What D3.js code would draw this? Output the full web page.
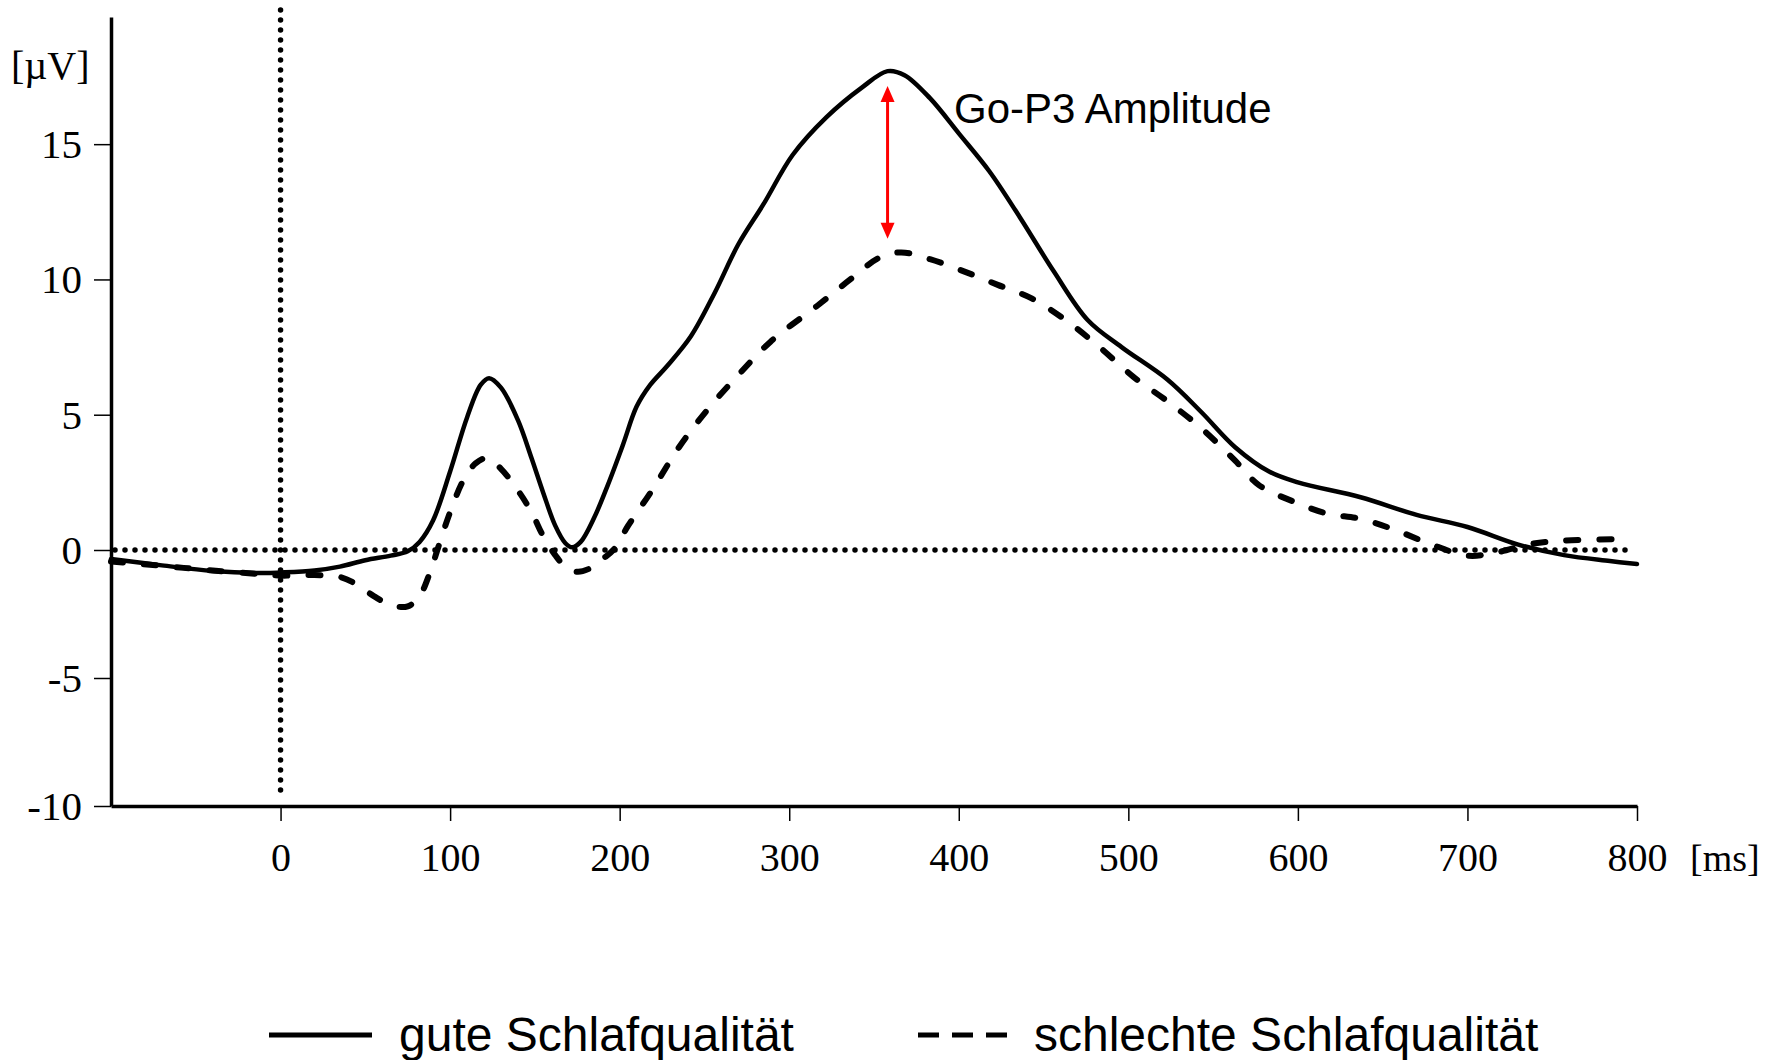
<!DOCTYPE html>
<html>
<head>
<meta charset="utf-8">
<script src="https://cdn.jsdelivr.net/npm/d3@7"></script>
<style>
  html, body { margin: 0; padding: 0; background: #fff; }
  svg { display: block; }
</style>
</head>
<body>
<svg id="chart" width="1778" height="1060"></svg>
<script>
// ---- Data ----
const timeMs = [-100,-70,-40,-10,0,20,35,50,65,75,82,90,100,110,118,123,130,140,148,155,162,168,172,177,185,193,202,210,218,228,242,256,270,285,302,322,343,358,368,383,400,418,436,456,476,496,523,543,563,583,600,637,670,700,730,757,784,800];
const guteValues = [-0.35,-0.6,-0.82,-0.9,-0.88,-0.8,-0.65,-0.4,-0.22,-0.05,0.3,1.1,2.9,4.9,6.1,6.35,6.0,4.8,3.4,2.1,0.9,0.25,0.1,0.3,1.2,2.4,3.9,5.3,6.1,6.8,7.9,9.5,11.3,12.8,14.6,16.0,17.1,17.7,17.55,16.7,15.4,14.0,12.3,10.3,8.5,7.5,6.3,5.1,3.8,2.9,2.5,1.95,1.3,0.85,0.2,-0.2,-0.43,-0.55];

const timeMsB = [-100,-70,-40,-10,0,20,35,45,55,65,75,82,88,93,100,108,115,122,130,140,148,155,162,168,175,183,190,197,205,219,235,252,269,289,316,336,353,366,383,403,423,443,463,483,503,523,543,563,577,597,617,637,657,677,700,717,737,757,787];
const schlechteValues = [-0.45,-0.62,-0.8,-0.95,-1.0,-0.98,-1.05,-1.35,-1.8,-2.15,-2.2,-1.8,-0.9,0.1,1.4,2.6,3.2,3.4,3.0,2.2,1.4,0.5,-0.2,-0.65,-0.85,-0.7,-0.35,0.05,0.9,2.2,3.8,5.2,6.4,7.7,9.0,10.0,10.8,11.0,10.75,10.3,9.8,9.3,8.5,7.5,6.4,5.5,4.5,3.3,2.4,1.8,1.35,1.15,0.75,0.25,-0.22,-0.1,0.22,0.35,0.4];

const xTicks = [0,100,200,300,400,500,600,700,800];
const yTicks = [-10,-5,0,5,10,15];
const seriesNames = ["gute Schlafqualität", "schlechte Schlafqualität"];
const annotationText = "Go-P3 Amplitude";
const arrowAt = 358;              // ms
const arrowRange = [11.5, 17.15]; // µV

// ---- Scales ----
const svg = d3.select("#chart");
svg.append("rect").attr("width",1778).attr("height",1060).attr("fill","#fff");

const x = d3.scaleLinear().domain([-100, 800]).range([111, 1637]);
const y = d3.scaleLinear().domain([-10, 0, 19.7]).range([806, 550, 17]);

const serif = "'Liberation Serif','Times New Roman',serif";
const sans = "'Liberation Sans',Arial,sans-serif";
const fmt = d => String(d);

// ---- Dotted reference lines ----
svg.append("line")
  .attr("x1", x(-100) + 4).attr("x2", x(797))
  .attr("y1", y(0)).attr("y2", y(0))
  .attr("stroke","#000").attr("stroke-width",5.5)
  .attr("stroke-linecap","round").attr("stroke-dasharray","0 10");
svg.append("line")
  .attr("x1", x(0)).attr("x2", x(0))
  .attr("y1", 10).attr("y2", 797)
  .attr("stroke","#000").attr("stroke-width",5.5)
  .attr("stroke-linecap","round").attr("stroke-dasharray","0 10");

// ---- Axes ----
const yAxis = d3.axisLeft(y).tickValues(yTicks).tickFormat(fmt).tickSize(17).tickSizeOuter(0).tickPadding(12);
const gy = svg.append("g").attr("transform", `translate(${x(-100)},0)`).call(yAxis);
gy.select(".domain").attr("stroke-width",3.5);
gy.selectAll(".tick line").attr("stroke-width",1.5);
gy.selectAll(".tick text").attr("font-family", serif).attr("font-size",41).attr("fill","#000").attr("dy","0.33em");

const xAxis = d3.axisBottom(x).tickValues(xTicks).tickFormat(fmt).tickSize(15).tickSizeOuter(0).tickPadding(22);
const gx = svg.append("g").attr("transform", `translate(0,${y(-10)})`).call(xAxis);
gx.select(".domain").attr("stroke-width",3.5);
gx.selectAll(".tick line").attr("stroke-width",1.5);
gx.selectAll(".tick text").attr("font-family", serif).attr("font-size",40).attr("fill","#000");

svg.append("text").attr("x", 11).attr("y", 79)
  .attr("font-family", serif).attr("font-size", 40).text("[µV]");
svg.append("text").attr("x", 1690).attr("y", 871)
  .attr("font-family", serif).attr("font-size", 38).text("[ms]");

// ---- Curves ----
const line = d3.line().x(d => x(d[0])).y(d => y(d[1])).curve(d3.curveCatmullRom.alpha(0.5));
svg.append("path")
  .datum(timeMs.map((t,i) => [t, guteValues[i]]))
  .attr("d", line).attr("fill","none").attr("stroke","#000").attr("stroke-width",4.5)
  .attr("stroke-linejoin","round").attr("stroke-linecap","round");
svg.append("path")
  .datum(timeMsB.map((t,i) => [t, schlechteValues[i]]))
  .attr("d", line).attr("fill","none").attr("stroke","#000").attr("stroke-width",6)
  .attr("stroke-dasharray","12 21").attr("stroke-linecap","round");

// ---- Red double arrow ----
const ax = x(arrowAt), aTop = y(arrowRange[1]), aBot = y(arrowRange[0]);
const head = 16, half = 7;
svg.append("line").attr("x1",ax).attr("x2",ax).attr("y1",aTop+head-2).attr("y2",aBot-head+2)
  .attr("stroke","#ff0000").attr("stroke-width",3);
svg.append("path").attr("d",`M${ax},${aTop} L${ax-half},${aTop+head} L${ax+half},${aTop+head} Z`).attr("fill","#ff0000");
svg.append("path").attr("d",`M${ax},${aBot} L${ax-half},${aBot-head} L${ax+half},${aBot-head} Z`).attr("fill","#ff0000");

svg.append("text").attr("x", 954).attr("y", 123)
  .attr("font-family", sans).attr("font-size", 42).attr("fill","#000").text(annotationText);

// ---- Legend ----
const lg = svg.append("g");
lg.append("line").attr("x1",269).attr("x2",372).attr("y1",1035).attr("y2",1035)
  .attr("stroke","#000").attr("stroke-width",5);
lg.append("text").attr("x",399).attr("y",1051).attr("font-family",sans).attr("font-size",48).text(seriesNames[0]);
lg.append("line").attr("x1",918).attr("x2",1007).attr("y1",1035).attr("y2",1035)
  .attr("stroke","#000").attr("stroke-width",5).attr("stroke-dasharray","21 13");
lg.append("text").attr("x",1034).attr("y",1051).attr("font-family",sans).attr("font-size",48).text(seriesNames[1]);
</script>
</body>
</html>
